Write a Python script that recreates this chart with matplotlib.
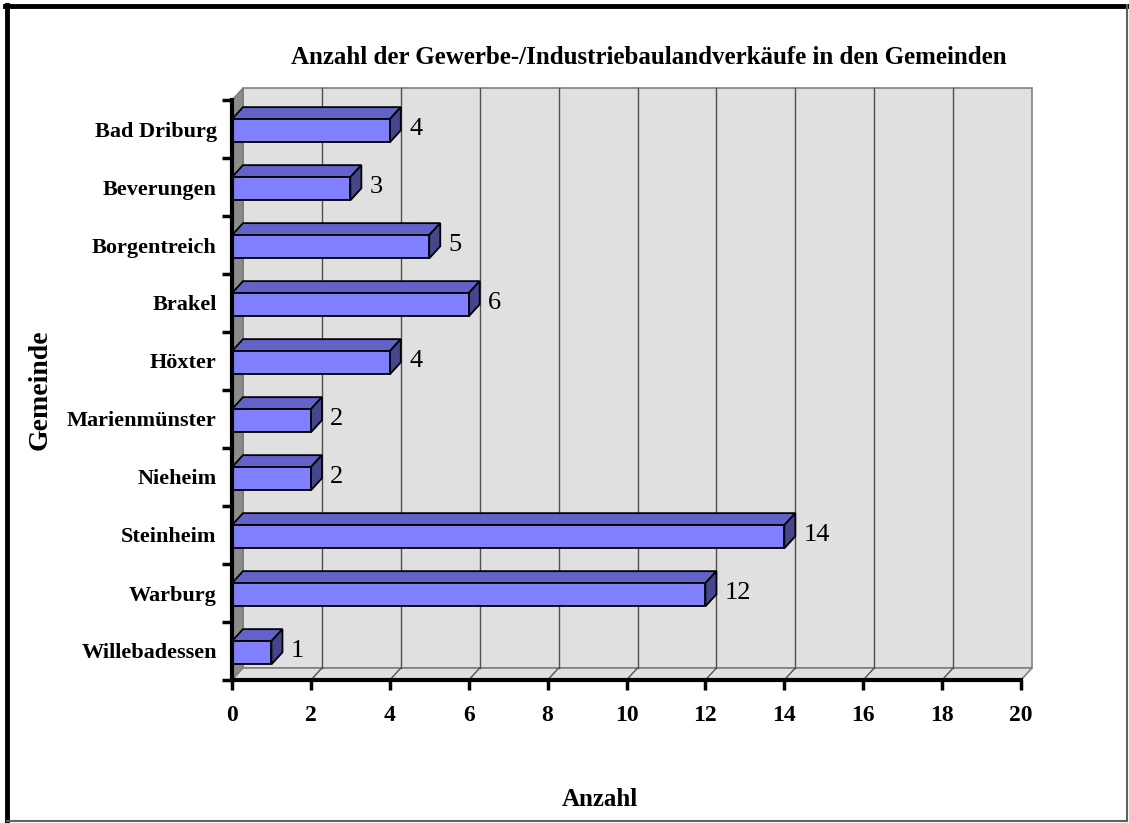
import matplotlib
matplotlib.use('Agg')
import matplotlib.pyplot as plt
from matplotlib.patches import Polygon, Rectangle
from matplotlib.lines import Line2D

gemeinden = ['Bad Driburg', 'Beverungen', 'Borgentreich', 'Brakel', 'Höxter',
             'Marienmünster', 'Nieheim', 'Steinheim', 'Warburg', 'Willebadessen']
anzahl = [4, 3, 5, 6, 4, 2, 2, 14, 12, 1]
xticks = [0, 2, 4, 6, 8, 10, 12, 14, 16, 18, 20]

plt.rcParams['font.family'] = ['Liberation Serif', 'DejaVu Serif']

W, H = 1129, 823
fig = plt.figure(figsize=(W / 100, H / 100), dpi=100)
ax = fig.add_axes([232 / W, 1 - 680 / H, (1021 - 232) / W, (680 - 100) / H])
ax.set_xlim(0, 20)
ax.set_ylim(9.5, -0.5)
ax.set_facecolor('none')

# depth offset in data units (approx 11 px right, 12 px up)
p0 = ax.transData.transform((0, 0))
p1 = ax.transData.transform((1, 1))
ddx = 11 / (p1[0] - p0[0])
ddy = 12 / (p1[1] - p0[1])

n = len(gemeinden)
ytop, ybot = -0.5, n - 0.5

# back wall
ax.add_patch(Rectangle((ddx, ytop + ddy), 20, n, facecolor='#e0e0e0',
                       edgecolor='#808080', lw=1.2, clip_on=False, zorder=0))
# left wall
ax.add_patch(Polygon([(0, ytop), (ddx, ytop + ddy), (ddx, ybot + ddy), (0, ybot)],
                     closed=True, facecolor='#8c8c8c', edgecolor='#707070',
                     lw=0.8, clip_on=False, zorder=0.5))
# floor
ax.add_patch(Polygon([(0, ybot), (20, ybot), (20 + ddx, ybot + ddy), (ddx, ybot + ddy)],
                     closed=True, facecolor='#e0e0e0', edgecolor='#808080',
                     lw=1.2, clip_on=False, zorder=0.5))
# grid lines on back wall and floor
for xv in xticks[1:-1]:
    ax.add_line(Line2D([xv + ddx, xv + ddx], [ytop + ddy, ybot + ddy],
                       color='#505050', lw=1.0, clip_on=False, zorder=0.6))
    ax.add_line(Line2D([xv, xv + ddx], [ybot, ybot + ddy],
                       color='#505050', lw=1.0, clip_on=False, zorder=0.6))

# bars
h = 0.4
for i, v in enumerate(anzahl):
    y0 = i - h / 2 + 0.03
    y1 = y0 + h
    ax.add_patch(Polygon([(0, y0), (v, y0), (v + ddx, y0 + ddy), (ddx, y0 + ddy)],
                         closed=True, facecolor='#6262c8', edgecolor='black',
                         lw=1.3, clip_on=False, zorder=2))
    ax.add_patch(Polygon([(v, y0), (v + ddx, y0 + ddy), (v + ddx, y1 + ddy), (v, y1)],
                         closed=True, facecolor='#46468e', edgecolor='black',
                         lw=1.3, clip_on=False, zorder=2))
    ax.add_patch(Rectangle((0, y0), v, h, facecolor='#8080ff', edgecolor='black',
                           lw=1.3, clip_on=False, zorder=3))
    ax.annotate(str(v), xy=(v, i), xytext=(14, 0), textcoords='offset points',
                ha='left', va='center', fontsize=19, color='black', zorder=4)

# axes
for s in ['top', 'right']:
    ax.spines[s].set_visible(False)
for s in ['left', 'bottom']:
    ax.spines[s].set_linewidth(3)
    ax.spines[s].set_zorder(5)

ax.set_xticks(xticks)
ax.set_xticklabels([str(t) for t in xticks], fontsize=17, fontweight='bold')
ax.tick_params(axis='x', direction='out', length=7, width=2.5, pad=11)
ax.set_yticks(range(n))
ax.set_yticklabels(gemeinden, fontsize=16, fontweight='bold')
ax.set_yticks([k - 0.5 for k in range(n + 1)], minor=True)
ax.tick_params(axis='y', which='major', length=0, pad=11)
ax.tick_params(axis='y', which='minor', direction='out', length=7, width=2.5)

fig.text(649 / W, 1 - 58 / H, 'Anzahl der Gewerbe-/Industriebaulandverkäufe in den Gemeinden',
         ha='center', va='center', fontsize=18, fontweight='bold')
fig.text(600 / W, 1 - 800 / H, 'Anzahl', ha='center', va='center',
         fontsize=18, fontweight='bold')
fig.text(40 / W, 1 - 390 / H, 'Gemeinde', ha='center', va='center',
         rotation=90, fontsize=20, fontweight='bold')

# figure frame
fig.add_artist(Line2D([7 / W, 7 / W], [2 / H, 1 - 5 / H], color='black', lw=3.5))
fig.add_artist(Line2D([5 / W, 1 - 2 / W], [1 - 6 / H, 1 - 6 / H], color='black', lw=3.5))
fig.add_artist(Line2D([1 - 2.5 / W, 1 - 2.5 / W], [2 / H, 1 - 5 / H], color='#606060', lw=1.5))
fig.add_artist(Line2D([7 / W, 1 - 2 / W], [2.5 / H, 2.5 / H], color='#606060', lw=1.5))

fig.savefig('out.png', dpi=100)
